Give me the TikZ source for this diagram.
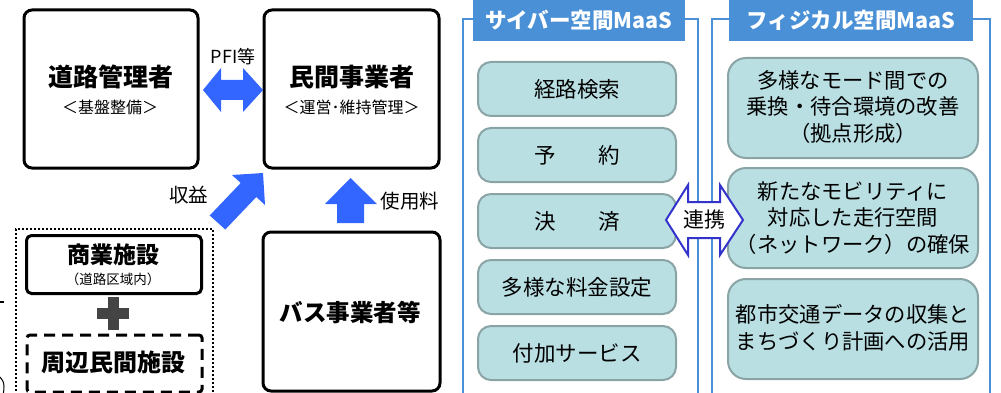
\documentclass[tikz,border=0pt]{standalone}
\usepackage{fontspec}
\setmainfont{Noto Sans CJK JP}
\definecolor{arrowblue}{RGB}{51,102,255}
\definecolor{panelblue}{RGB}{74,144,214}
\definecolor{boxfill}{RGB}{185,223,227}
\definecolor{boxline}{RGB}{138,164,165}
\definecolor{linkblue}{RGB}{51,51,204}
\definecolor{plusgray}{RGB}{68,68,68}
\begin{document}
\begin{tikzpicture}[x=1pt,y=-1pt,
  mainbox/.style={draw=black, line width=3pt, rounded corners=8pt, fill=white, inner sep=0pt},
  dashbox/.style={draw=black, line width=3pt, dash pattern=on 11pt off 7pt, rounded corners=3pt, inner sep=0pt},
  dotbox/.style={draw=black, line width=2pt, dash pattern=on 2pt off 2pt, inner sep=0pt},
  blockarrow/.style={fill=arrowblue, draw=none},
  panelline/.style={draw=panelblue, line width=2.5pt},
  titlebox/.style={fill=panelblue, text=white, font=\fontsize{21.5}{25}\selectfont\bfseries, inner sep=0pt},
  listbox/.style={draw=boxline, fill=boxfill, line width=2pt, rounded corners=13pt, minimum width=198pt, minimum height=54pt, inner sep=0pt, font=\fontsize{21.5}{27}\selectfont, align=center},
  physbox/.style={draw=boxline, fill=boxfill, line width=2pt, rounded corners=18pt, minimum width=250pt, minimum height=100pt, inner sep=0pt},
  bigtitle/.style={font=\fontsize{25}{29}\selectfont\bfseries, inner sep=0pt},
  midtitle/.style={font=\fontsize{23}{27}\selectfont\bfseries, inner sep=0pt},
  subtitle/.style={font=\fontsize{16}{19}\selectfont, inner sep=0pt},
  smalllabel/.style={font=\fontsize{19.5}{22}\selectfont, inner sep=0pt},
  phystext/.style={font=\fontsize{21.3}{26.5}\selectfont, align=center, inner sep=0pt}
]
\useasboundingbox (0,0) rectangle (1001,393);

% ---------- left part ----------
\node[mainbox, minimum width=174pt, minimum height=158pt] (road) at (111,89) {};
\node[bigtitle] (roadt) at (111,77) {道路管理者};
\node[subtitle] (roads) at (110,107) {＜基盤整備＞};

\node[mainbox, minimum width=175pt, minimum height=158pt] (priv) at (351.5,89) {};
\node[bigtitle] (privt) at (351.5,77) {民間事業者};
\node[subtitle] (privs) at (351.5,107) {＜運営･維持管理＞};

% PFI double arrow
\fill[blockarrow] (203,90) -- (221,68) -- (221,80) -- (243,80) -- (243,68) -- (263,90)
  -- (243,112) -- (243,100) -- (221,100) -- (221,112) -- cycle;
\node[font=\fontsize{18}{21}\selectfont, inner sep=0pt] (pfi) at (233,57) {PFI等};

% outer dotted group
\node[dotbox, minimum width=197pt, minimum height=190pt] (group) at (114.5,324) {};
\node[mainbox, rounded corners=5pt, minimum width=175pt, minimum height=58pt] (shop) at (114,264.5) {};
\node[midtitle] (shopt) at (113,255) {商業施設};
\node[font=\fontsize{13.5}{16}\selectfont, inner sep=0pt] (shops) at (113,279) {（道路区域内）};
% plus sign
\fill[plusgray] (97,308) rectangle (129,319);
\fill[plusgray] (107.5,297) rectangle (118.5,330);
\node[dashbox, minimum width=175pt, minimum height=57pt] (near) at (114.5,363.5) {};
\node[midtitle, font=\fontsize{24}{28}\selectfont\bfseries] (neart) at (113,362) {周辺民間施設};

% diagonal arrow (revenue)
\fill[blockarrow] (263,173) -- (265,205) -- (256.3,197) -- (225.3,229.5) -- (209.7,215.5)
  -- (240.7,183) -- (232,175) -- cycle;
\node[smalllabel] (rev) at (188.5,195) {収益};

% bus box and up arrow
\node[mainbox, minimum width=177pt, minimum height=159pt] (bus) at (351.5,311.5) {};
\node[midtitle, font=\fontsize{23.5}{27}\selectfont\bfseries] (bust) at (350,312) {バス事業者等};
\fill[blockarrow] (350.5,178) -- (377,204) -- (364,204) -- (364,223) -- (337,223) -- (337,204) -- (325,204) -- cycle;
\node[smalllabel] (fee) at (410,201) {使用料};

% stray marks at the left edge
\draw[line width=1.5pt] (0,302) -- (3.5,302);
\draw[line width=1pt] (0,377) .. controls (5,381) and (5,391) .. (2,397);

% ---------- cyber panel ----------
\draw[panelline] (473,19) -| (463,400);
\draw[panelline] (685,19) -| (698,400);
\node[titlebox, minimum width=212pt, minimum height=41pt] (cyt) at (579,20.5) {サイバー空間MaaS};

\node[listbox] (c1) at (577,89) {経路検索};
\node[listbox] (c2) at (577,155) {予　　約};
\node[listbox] (c3) at (577,221) {決　　済};
\node[listbox] (c4) at (577,287) {多様な料金設定};
\node[listbox] (c5) at (577,353) {付加サービス};

% ---------- physical panel ----------
\draw[panelline] (729,19) -| (712,400);
\draw[panelline] (973,19) -| (990,400);
\node[titlebox, minimum width=244pt, minimum height=41pt] (pht) at (851,20.5) {フィジカル空間MaaS};

\node[physbox] (p1) at (853,108) {};
\node[phystext] (p1t) at (853,107) {多様なモード間での\\乗換・待合環境の改善\\（拠点形成）};
\node[physbox] (p2) at (853,218) {};
\node[phystext] (p2t) at (853,218) {新たなモビリティに\\対応した走行空間\\（ネットワーク）の確保};
\node[physbox] (p3) at (853,329) {};
\node[phystext] (p3t) at (853,328) {都市交通データの収集と\\まちづくり計画への活用};

% link double arrow
\filldraw[draw=linkblue, fill=white, line width=2pt, line join=miter]
  (666,220) -- (688,185) -- (688,202) -- (720,202) -- (720,185) -- (743,220)
  -- (720,255) -- (720,238) -- (688,238) -- (688,255) -- cycle;
\node[font=\fontsize{21}{24}\selectfont, inner sep=0pt] (link) at (704.5,220) {連携};
\end{tikzpicture}
\end{document}
